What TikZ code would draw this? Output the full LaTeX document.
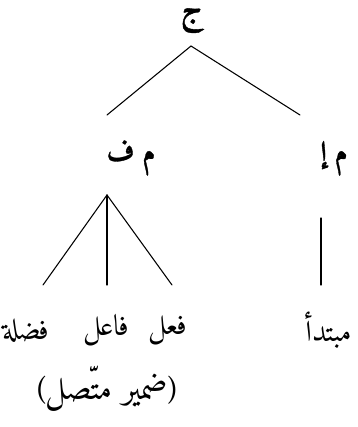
\documentclass[tikz,border=0pt]{standalone}
\usepackage{fontspec}
\newfontfamily\arabicfont[Script=Arabic]{Amiri}
\newfontfamily\arabicbold[Script=Arabic,FakeBold=1.2]{Amiri Bold}
\newfontfamily\parenfont{Amiri}
\TeXXeTstate=1
\begin{document}
\begin{tikzpicture}[x=0.75pt,y=-0.75pt,
  lbl/.style={inner sep=0pt,font=\arabicfont\fontsize{22}{26}\selectfont},
  rlbl/.style={inner sep=0pt,font=\arabicfont\fontsize{25}{30}\selectfont},
  blbl/.style={inner sep=0pt,font=\arabicbold\fontsize{21}{26}\selectfont},
  edge/.style={line width=0.8pt,line cap=round}]
\useasboundingbox (0,0) rectangle (357,427);
% labels
\node[blbl,font=\arabicbold\fontsize{23}{28}\selectfont] (root) at (191,21) {\beginR ج\endR};
\node[blbl] (mf) at (131,158) {\beginR م ف\endR};
\node[blbl] (mi) at (334,158) {\beginR م إ\endR};
\node[lbl] (fadla) at (26,330) {\beginR فضلة\endR};
\node[lbl] (faail) at (106,330) {\beginR فاعل\endR};
\node[lbl] (fiil) at (168,330) {\beginR فعل\endR};
\node[lbl,anchor=east] (mubtada) at (352,330) {\beginR مبتدأ\endR};
\node[rlbl] (damir) at (107,389) {{\parenfont(}\beginR ضمير متّصل\endR{\parenfont)}};
% branch points
\coordinate (top) at (191,46);
\coordinate (topL) at (107,115);
\coordinate (topR) at (300,115);
\coordinate (fork) at (107,195);
\coordinate (forkL) at (43,285);
\coordinate (forkM) at (107,285);
\coordinate (forkR) at (172,285);
\coordinate (vT) at (321,218);
\coordinate (vB) at (321,285);
\draw[edge] (topL) -- (top) -- (topR);
\draw[edge] (fork) -- (forkL);
\draw[edge] (fork) -- (forkM);
\draw[edge] (fork) -- (forkR);
\draw[edge] (vT) -- (vB);
\end{tikzpicture}
\end{document}
